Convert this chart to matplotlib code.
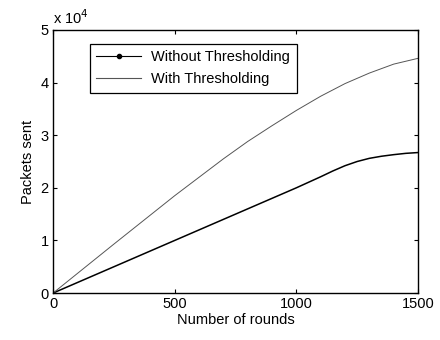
import matplotlib
matplotlib.use("Agg")
import matplotlib.pyplot as plt
from matplotlib.lines import Line2D

plt.rcParams['font.family'] = ['Liberation Sans', 'DejaVu Sans']

# valeurs (paquets / 1e4)
rounds = [0, 250, 500, 750, 1000, 1100, 1150, 1200, 1250, 1300, 1350, 1400, 1450, 1500]
without_thr = [0, 0.5, 1.0, 1.5, 2.0, 2.21, 2.32, 2.42, 2.50, 2.56, 2.60, 2.63, 2.655, 2.67]
rounds2 = [0, 250, 500, 700, 800, 900, 1000, 1100, 1200, 1300, 1400, 1500]
with_thr = [0, 0.93, 1.85, 2.55, 2.88, 3.18, 3.47, 3.74, 3.98, 4.18, 4.35, 4.46]

fs = 10.5

fig = plt.figure(figsize=(4.4, 3.4), dpi=100)
ax = fig.add_axes([0.1205, 0.138, 0.8295, 0.774])

ax.plot(rounds, without_thr, color='black', lw=1.1)
ax.plot(rounds2, with_thr, color='#555555', lw=0.7)

ax.set_xlim(0, 1500)
ax.set_ylim(0, 5)
ax.set_xticks([0, 500, 1000, 1500])
ax.set_yticks([0, 1, 2, 3, 4, 5])
ax.tick_params(direction='in', top=True, right=True, labelsize=fs, length=3, pad=3)
for s in ax.spines.values():
    s.set_linewidth(1.0)

ax.set_xlabel("Number of rounds", fontsize=fs, labelpad=1)
ax.set_ylabel("Packets sent", fontsize=fs, labelpad=4)
ax.text(0.0, 1.01, r"x 10$^4$", transform=ax.transAxes, fontsize=fs, va='bottom')

handles = [Line2D([], [], color='black', lw=0.8, marker='.', markersize=6),
           Line2D([], [], color='#555555', lw=0.8)]
leg = ax.legend(handles, ["Without Thresholding", "With Thresholding"],
                loc='upper left', bbox_to_anchor=(0.1, 0.947), fontsize=fs,
                fancybox=False, edgecolor='black', framealpha=1,
                handlelength=3.1, handletextpad=0.7, borderpad=0.45,
                labelspacing=0.55, borderaxespad=0)
leg.get_frame().set_linewidth(0.9)

fig.savefig("out.png", dpi=100)
